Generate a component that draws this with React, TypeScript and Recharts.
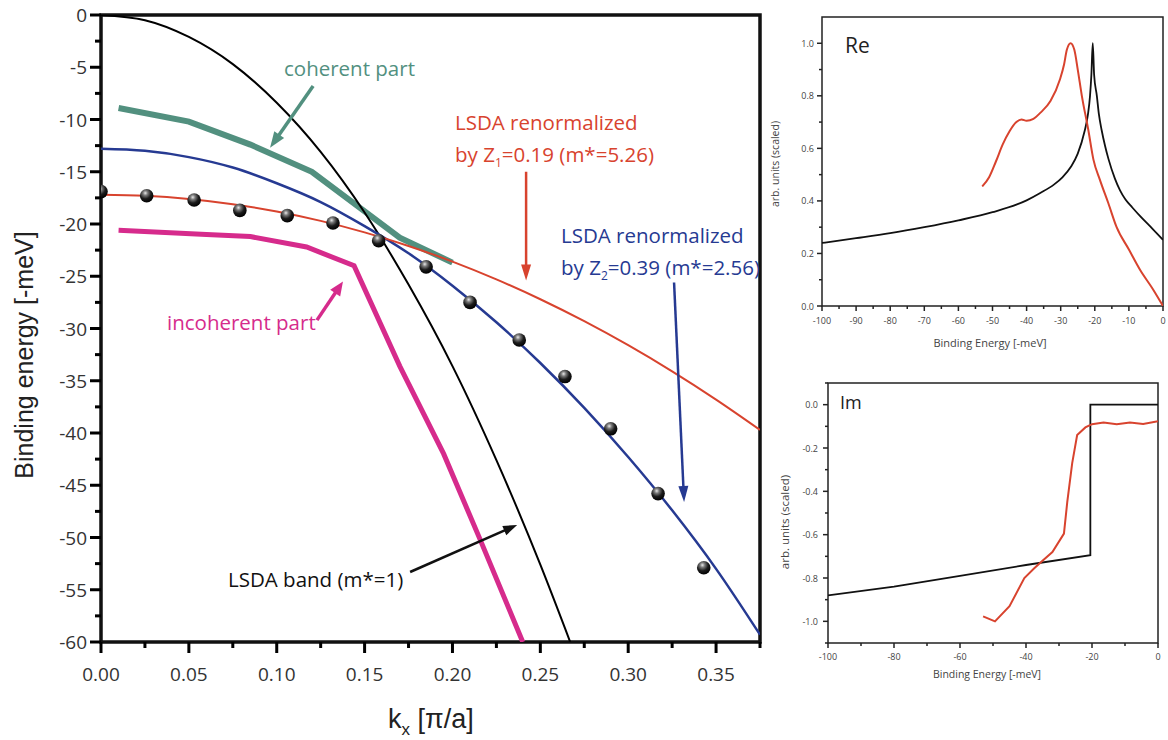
import React from "react";
import {
  ComposedChart,
  LineChart,
  Line,
  Scatter,
  XAxis,
  YAxis,
  ReferenceLine,
  ReferenceArea,
} from "recharts";

// ---------------- Main panel: dispersion ----------------
const bandK = [0, 0.025, 0.05, 0.075, 0.1, 0.125, 0.15, 0.175, 0.2, 0.225, 0.25, 0.267];
const bandE = [0, -0.5, -2.1, -4.7, -8.4, -13.1, -18.9, -25.8, -33.6, -42.6, -52.6, -60];

const renormK = [0, 0.025, 0.05, 0.075, 0.1, 0.125, 0.15, 0.175, 0.2, 0.225, 0.25, 0.275, 0.3, 0.325, 0.35, 0.375];
const renormZ1E = [-17.2, -17.3, -17.6, -18.1, -18.8, -19.7, -20.8, -22.1, -23.6, -25.3, -27.2, -29.3, -31.6, -34.1, -36.8, -39.7];
const renormZ2E = [-12.8, -13.0, -13.6, -14.6, -16.1, -17.9, -20.2, -22.8, -25.9, -29.4, -33.3, -37.6, -42.3, -47.4, -53.0, -59.3];

const coherentK = [0.01, 0.05, 0.085, 0.12, 0.147, 0.17, 0.2];
const coherentE = [-8.9, -10.2, -12.4, -15.0, -18.4, -21.3, -23.7];

const incoherentK = [0.01, 0.06, 0.085, 0.117, 0.144, 0.17, 0.195, 0.216, 0.24];
const incoherentE = [-20.6, -21.0, -21.2, -22.2, -24.0, -33.6, -42.0, -50.3, -60];

const measuredK = [0, 0.026, 0.053, 0.079, 0.106, 0.132, 0.158, 0.185, 0.21, 0.238, 0.264, 0.29, 0.317, 0.343];
const measuredE = [-16.9, -17.3, -17.7, -18.7, -19.2, -19.9, -21.6, -24.1, -27.5, -31.1, -34.6, -39.6, -45.8, -52.9];

const mainXTicks = [0, 0.025, 0.05, 0.075, 0.1, 0.125, 0.15, 0.175, 0.2, 0.225, 0.25, 0.275, 0.3, 0.325, 0.35, 0.375];
const mainYTicks = [0, -2.5, -5, -7.5, -10, -12.5, -15, -17.5, -20, -22.5, -25, -27.5, -30, -32.5, -35, -37.5, -40, -42.5, -45, -47.5, -50, -52.5, -55, -57.5, -60];

// annotation arrows (data coordinates): [k1, E1, k2, E2]
const arrowCoherent = [0.1207, -6.8, 0.0962, -12.7];
const arrowZ1 = [0.2419, -15.0, 0.2419, -25.4];
const arrowZ2 = [0.3261, -25.6, 0.3318, -46.6];
const arrowIncoherent = [0.1229, -29.2, 0.1377, -25.5];
const arrowBand = [0.1759, -53.3, 0.2368, -48.8];

// ---------------- Re panel ----------------
const reBlackX = [-100, -90, -80, -70, -60, -50, -40, -36, -32, -29.5, -27, -25, -23, -22, -21.4, -21, -20.6, -20.2, -19.4, -18.8, -18, -17, -16, -14.1, -12.6, -11, -9, -6.7, -3, 0];
const reBlackY = [0.24, 0.258, 0.277, 0.3, 0.326, 0.357, 0.402, 0.43, 0.462, 0.49, 0.53, 0.58, 0.665, 0.73, 0.8, 0.88, 1.0, 0.88, 0.8, 0.73, 0.67, 0.61, 0.56, 0.485, 0.44, 0.405, 0.375, 0.342, 0.293, 0.252];
const reRedX = [-53, -51, -49, -47, -45, -43, -41.5, -40, -38, -36, -33, -30.2, -29, -28.2, -27.1, -26, -25, -23.8, -21.9, -20.4, -18.5, -16, -13.6, -10, -6.7, -3, 0];
const reRedY = [0.455, 0.49, 0.55, 0.615, 0.665, 0.7, 0.71, 0.705, 0.712, 0.735, 0.78, 0.863, 0.92, 0.975, 1.0, 0.975, 0.9, 0.8, 0.67, 0.557, 0.48, 0.39, 0.3, 0.215, 0.137, 0.065, 0.0];
const reXTicks = [-100, -95, -90, -85, -80, -75, -70, -65, -60, -55, -50, -45, -40, -35, -30, -25, -20, -15, -10, -5, 0];
const reYTicks = [0, 0.1, 0.2, 0.3, 0.4, 0.5, 0.6, 0.7, 0.8, 0.9, 1.0];

// ---------------- Im panel ----------------
const imBlackX = [-100, -80, -60, -40, -20.5, -20.5, 0];
const imBlackY = [-0.88, -0.84, -0.79, -0.74, -0.695, 0.0, 0.0];
const imRedX = [-53, -49.4, -45, -40.5, -37.5, -35, -32, -28.5, -27.5, -26, -24.5, -22, -20, -16.5, -12.5, -8.5, -4.5, 0];
const imRedY = [-0.977, -1.0, -0.93, -0.8, -0.755, -0.72, -0.68, -0.595, -0.45, -0.27, -0.14, -0.105, -0.09, -0.082, -0.09, -0.082, -0.089, -0.077];
const imXTicks = [-100, -90, -80, -70, -60, -50, -40, -30, -20, -10, 0];
const imYTicks = [0.1, 0, -0.1, -0.2, -0.3, -0.4, -0.5, -0.6, -0.7, -0.8, -0.9, -1.0, -1.1];

const zip = (xs: number[], ys: number[]) => xs.map((x, i) => ({ k: x, E: ys[i] }));

const RED = "#d8432e";
const BLUE = "#263a92";
const TEAL = "#52907f";
const MAGENTA = "#d62b8c";
const TXT_FONT = "'Open Sans', 'Noto Sans', sans-serif";

type TickCfg = {
  side: "left" | "bottom";
  major: number;
  majorLen: number;
  minorLen: number;
  sw: number;
  stroke: string;
  color: string;
  fs: number;
  gap: number;
  fmt: (v: number) => string;
  hideLabel?: (v: number) => boolean;
};

const makeTick = (c: TickCfg) => (props: any) => {
  const { x, y, payload } = props;
  const v = payload.value as number;
  const r = v / c.major;
  const isMajor = Math.abs(r - Math.round(r)) < 1e-6;
  const len = isMajor ? c.majorLen : c.minorLen;
  const showLabel = isMajor && !(c.hideLabel && c.hideLabel(v));
  if (c.side === "left") {
    return (
      <g>
        <line x1={x} y1={y} x2={x - len} y2={y} stroke={c.stroke} strokeWidth={c.sw} />
        {showLabel && (
          <text x={x - c.majorLen - c.gap} y={y} textAnchor="end" dominantBaseline="central" fontSize={c.fs} fill={c.color} fontFamily={TXT_FONT}>
            {c.fmt(v)}
          </text>
        )}
      </g>
    );
  }
  return (
    <g>
      <line x1={x} y1={y} x2={x} y2={y + len} stroke={c.stroke} strokeWidth={c.sw} />
      {showLabel && (
        <text x={x} y={y + c.majorLen + c.gap} textAnchor="middle" dominantBaseline="hanging" fontSize={c.fs} fill={c.color} fontFamily={TXT_FONT}>
          {c.fmt(v)}
        </text>
      )}
    </g>
  );
};

const arrowShape = (color: string, width: number, hl: number, hw: number) => (p: any) => {
  const { x1, y1, x2, y2 } = p;
  const dx = x2 - x1;
  const dy = y2 - y1;
  const L = Math.hypot(dx, dy) || 1;
  const ux = dx / L;
  const uy = dy / L;
  const bx = x2 - ux * hl;
  const by = y2 - uy * hl;
  const pts = `${x2},${y2} ${bx - uy * hw},${by + ux * hw} ${bx + uy * hw},${by - ux * hw}`;
  return (
    <g>
      <line x1={x1} y1={y1} x2={bx + ux} y2={by + uy} stroke={color} strokeWidth={width} />
      <polygon points={pts} fill={color} />
    </g>
  );
};

const Sphere = (props: any) => {
  const { cx, cy } = props;
  if (cx == null || cy == null) return null;
  return (
    <g>
      <defs>
        <radialGradient id="sphereGrad" cx="0.4" cy="0.3" r="0.7">
          <stop offset="0" stopColor="#e8e8e8" />
          <stop offset="0.25" stopColor="#7a7a7a" />
          <stop offset="0.6" stopColor="#1c1c1c" />
          <stop offset="1" stopColor="#000" />
        </radialGradient>
      </defs>
      <circle cx={cx} cy={cy} r={6.8} fill="url(#sphereGrad)" />
    </g>
  );
};

const arrowLine = (a: number[], color: string, w: number, hl = 14, hw = 5) => (
  <ReferenceLine
    segment={[
      { x: a[0], y: a[1] },
      { x: a[2], y: a[3] },
    ]}
    ifOverflow="visible"
    shape={arrowShape(color, w, hl, hw)}
  />
);

export default function App() {
  const mainXTick = makeTick({ side: "bottom", major: 0.05, majorLen: 11, minorLen: 6, sw: 3, stroke: "#000", color: "#333", fs: 19, gap: 12, fmt: (v) => v.toFixed(2) });
  const mainYTick = makeTick({ side: "left", major: 5, majorLen: 11, minorLen: 6, sw: 3, stroke: "#000", color: "#333", fs: 19, gap: 3, fmt: (v) => String(Math.round(v)) });
  const reXTick = makeTick({ side: "bottom", major: 10, majorLen: 5, minorLen: 3, sw: 1.5, stroke: "#222", color: "#444", fs: 9, gap: 5, fmt: (v) => String(Math.round(v)) });
  const reYTick = makeTick({ side: "left", major: 0.2, majorLen: 5, minorLen: 3, sw: 1.5, stroke: "#222", color: "#444", fs: 9, gap: 3, fmt: (v) => v.toFixed(1) });
  const imXTick = makeTick({ side: "bottom", major: 20, majorLen: 5, minorLen: 3, sw: 1.5, stroke: "#222", color: "#444", fs: 9, gap: 4, fmt: (v) => String(Math.round(v)) });
  const imYTick = makeTick({ side: "left", major: 0.2, majorLen: 5, minorLen: 3, sw: 1.5, stroke: "#222", color: "#444", fs: 9, gap: 5, fmt: (v) => (Math.abs(v) < 1e-9 ? "0.0" : v.toFixed(1)), hideLabel: (v) => v > 0.05 });

  return (
    <div style={{ position: "absolute", left: 0, top: 0, width: 1168, height: 740, background: "#fff", overflow: "hidden" }}>
      {/* Main dispersion panel */}
      <div style={{ position: "absolute", left: 0, top: 0 }}>
        <ComposedChart width={780} height={740} margin={{ top: 15, right: 20, left: 41, bottom: 58 }}>
          <XAxis
            type="number"
            dataKey="k"
            domain={[0, 0.375]}
            ticks={mainXTicks}
            interval={0}
            axisLine={false}
            tickLine={false}
            tickSize={0}
            tickMargin={0}
            height={40}
            tick={mainXTick}
            allowDataOverflow
          />
          <YAxis
            type="number"
            dataKey="E"
            domain={[-60, 0]}
            ticks={mainYTicks}
            interval={0}
            axisLine={false}
            tickLine={false}
            tickSize={0}
            tickMargin={0}
            width={60}
            tick={mainYTick}
            allowDataOverflow
          />
          <ReferenceArea x1={0} x2={0.375} y1={-60} y2={0} fill="none" stroke="#111" strokeWidth={3.5} ifOverflow="visible" />
          <Line data={zip(incoherentK, incoherentE)} dataKey="E" type="linear" stroke={MAGENTA} strokeWidth={5} dot={false} isAnimationActive={false} />
          <Line data={zip(coherentK, coherentE)} dataKey="E" type="linear" stroke={TEAL} strokeWidth={6} dot={false} isAnimationActive={false} />
          <Line data={zip(bandK, bandE)} dataKey="E" type="monotone" stroke="#000" strokeWidth={2} dot={false} isAnimationActive={false} />
          <Line data={zip(renormK, renormZ2E)} dataKey="E" type="monotone" stroke={BLUE} strokeWidth={2.5} dot={false} isAnimationActive={false} />
          <Line data={zip(renormK, renormZ1E)} dataKey="E" type="monotone" stroke={RED} strokeWidth={2} dot={false} isAnimationActive={false} />
          <Scatter data={zip(measuredK, measuredE)} dataKey="E" shape={Sphere} isAnimationActive={false} />
          {arrowLine(arrowCoherent, TEAL, 3.5, 16, 6)}
          {arrowLine(arrowZ1, RED, 2.5, 16, 5)}
          {arrowLine(arrowZ2, BLUE, 2.5, 16, 5)}
          {arrowLine(arrowIncoherent, MAGENTA, 3.5, 14, 6)}
          {arrowLine(arrowBand, "#111", 2.5, 14, 5)}
        </ComposedChart>
      </div>

      {/* Re panel */}
      <div style={{ position: "absolute", left: 770, top: 0 }}>
        <LineChart width={398} height={370} margin={{ top: 17, right: 5, left: 0, bottom: 34 }}>
          <XAxis type="number" dataKey="k" domain={[-100, 0]} ticks={reXTicks} interval={0} axisLine={false} tickLine={false} tickSize={0} tickMargin={0} height={30} tick={reXTick} allowDataOverflow />
          <YAxis type="number" dataKey="E" domain={[0, 1.1]} ticks={reYTicks} interval={0} axisLine={false} tickLine={false} tickSize={0} tickMargin={0} width={52} tick={reYTick} allowDataOverflow />
          <ReferenceArea x1={-100} x2={0} y1={0} y2={1.1} fill="none" stroke="#222" strokeWidth={1.5} ifOverflow="visible" />
          <Line data={zip(reBlackX, reBlackY)} dataKey="E" type="monotone" stroke="#111" strokeWidth={1.8} dot={false} isAnimationActive={false} />
          <Line data={zip(reRedX, reRedY)} dataKey="E" type="monotone" stroke={RED} strokeWidth={2} dot={false} isAnimationActive={false} />
        </LineChart>
      </div>

      {/* Im panel */}
      <div style={{ position: "absolute", left: 770, top: 370 }}>
        <LineChart width={398} height={370} margin={{ top: 13, right: 10, left: 0, bottom: 67 }}>
          <XAxis type="number" dataKey="k" domain={[-100, 0]} ticks={imXTicks} interval={0} axisLine={false} tickLine={false} tickSize={0} tickMargin={0} height={30} tick={imXTick} allowDataOverflow />
          <YAxis type="number" dataKey="E" domain={[-1.1, 0.1]} ticks={imYTicks} interval={0} axisLine={false} tickLine={false} tickSize={0} tickMargin={0} width={58} tick={imYTick} allowDataOverflow />
          <ReferenceArea x1={-100} x2={0} y1={-1.1} y2={0.1} fill="none" stroke="#222" strokeWidth={1.5} ifOverflow="visible" />
          <Line data={zip(imBlackX, imBlackY)} dataKey="E" type="linear" stroke="#111" strokeWidth={1.8} dot={false} isAnimationActive={false} />
          <Line data={zip(imRedX, imRedY)} dataKey="E" type="linear" stroke={RED} strokeWidth={2} dot={false} isAnimationActive={false} />
        </LineChart>
      </div>

      {/* Text overlay */}
      <svg width={1168} height={740} style={{ position: "absolute", left: 0, top: 0, pointerEvents: "none" }}>
        <text transform="translate(33,355) rotate(-90)" textAnchor="middle" fontSize={25} fill="#222" fontFamily="'Liberation Sans', Arial, sans-serif">
          Binding energy [-meV]
        </text>
        <text x={388} y={728} fontSize={27} fill="#222" fontFamily="'Liberation Sans', Arial, sans-serif">
          <tspan>k</tspan>
          <tspan dy={7} fontSize={17}>x</tspan>
          <tspan dy={-7}> [π/a]</tspan>
        </text>

        <text x={284} y={76} fontSize={20.5} fill={TEAL} fontFamily={TXT_FONT}>coherent part</text>
        <text x={455} y={130} fontSize={20.5} fill={RED} fontFamily={TXT_FONT}>LSDA renormalized</text>
        <text x={455} y={162} fontSize={20.5} fill={RED} fontFamily={TXT_FONT}>
          <tspan>by Z</tspan>
          <tspan dy={5} fontSize={12}>1</tspan>
          <tspan dy={-5}>=0.19 (m*=5.26)</tspan>
        </text>
        <text x={561} y={243} fontSize={20.5} fill={BLUE} fontFamily={TXT_FONT}>LSDA renormalized</text>
        <text x={561} y={275} fontSize={20.5} fill={BLUE} fontFamily={TXT_FONT}>
          <tspan>by Z</tspan>
          <tspan dy={5} fontSize={12}>2</tspan>
          <tspan dy={-5}>=0.39 (m*=2.56)</tspan>
        </text>
        <text x={167} y={330} fontSize={20.5} fill={MAGENTA} fontFamily={TXT_FONT}>incoherent part</text>
        <text x={228} y={587} fontSize={20.5} fill="#111" fontFamily={TXT_FONT}>LSDA band (m*=1)</text>

        <text x={845} y={53} fontSize={21} fill="#222" fontFamily={TXT_FONT}>Re</text>
        <text transform="translate(779,164) rotate(-90)" textAnchor="middle" fontSize={10.5} fill="#444" fontFamily={TXT_FONT}>arb. units (scaled)</text>
        <text x={990} y={347} textAnchor="middle" fontSize={11} fill="#444" fontFamily={TXT_FONT}>Binding Energy [-meV]</text>

        <text x={840} y={409} fontSize={18} fill="#222" fontFamily={TXT_FONT}>Im</text>
        <text transform="translate(789,522) rotate(-90)" textAnchor="middle" fontSize={11.5} fill="#444" fontFamily={TXT_FONT}>arb. units (scaled)</text>
        <text x={987} y={678} textAnchor="middle" fontSize={10.5} fill="#444" fontFamily={TXT_FONT}>Binding Energy [-meV]</text>
      </svg>
    </div>
  );
}
